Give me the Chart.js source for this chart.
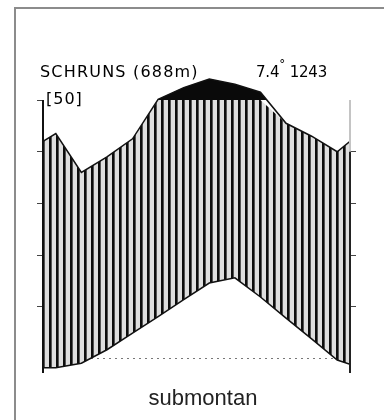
<!DOCTYPE html>
<html>
<head>
<meta charset="utf-8">
<script src="https://cdn.jsdelivr.net/npm/chart.js@4"></script>
<style>
html, body { margin: 0; padding: 0; background: #fff; overflow: hidden; }
#wrap { position: relative; width: 384px; height: 420px; overflow: hidden; }
#frame { position: absolute; left: 14px; top: 7px; width: 420px; height: 460px; border-left: 2px solid #8c8c8c; border-top: 2px solid #8c8c8c; }
canvas { position: absolute; left: 0; top: 0; }
.lbl { position: absolute; font-family: "DejaVu Sans", sans-serif; font-size: 16px; line-height: 16px; color: #000; white-space: nowrap; }
#caption { position: absolute; left: 103px; top: 387px; width: 200px; text-align: center; font-family: "Liberation Sans", Arial, sans-serif; font-size: 22px; line-height: 22px; color: #222; }
</style>
</head>
<body>
<div id="wrap">
  <div id="frame"></div>
  <canvas id="klima" width="384" height="420"></canvas>
  <div class="lbl" style="left:40px; top:64px; letter-spacing:1.2px;">SCHRUNS (688m)</div>
  <div class="lbl" style="left:256px; top:64px; font-size:15px; letter-spacing:-0.2px;">7.4<span style="position:relative; top:-9px; font-size:12px;">°</span> 1243</div>
  <div class="lbl" style="left:46px; top:91px; letter-spacing:1px;">[50]</div>
  <div id="caption">submontan</div>
</div>
<script>
// Klimadiagramm nach Walter/Lieth: 10 °C = 20 mm, über 100 mm auf 1/10 verkürzt
const months = ['Jan', 'Feb', 'Mär', 'Apr', 'Mai', 'Jun', 'Jul', 'Aug', 'Sep', 'Okt', 'Nov', 'Dez'];
const temperature = [-1.8, -0.9, 1.7, 4.9, 8.1, 11.4, 14.6, 15.6, 11.9, 7.8, 3.8, -0.3];
const precipitation = [87, 72, 78, 85, 103, 148, 181, 161, 130, 91, 86, 80];
const tempEdges = [-1.8, -1.1];      // Kurvenenden am Jahresanfang / -ende
const precipEdges = [84, 84];
const leftTicks = [10, 20, 30, 40, 50];
const rightTicks = [10, 20, 30, 40];

function skalaNiederschlag(p) {
    return p <= 100 ? p / 2 : 50 + (p - 100) / 20;
}

function punkte(werte, enden, f) {
    const pts = [{ x: 0, y: f(enden[0]) }];
    werte.forEach((v, i) => pts.push({ x: i + 0.5, y: f(v) }));
    pts.push({ x: months.length, y: f(enden[1]) });
    return pts;
}

const tempPts = punkte(temperature, tempEdges, v => v);
const precipPts = punkte(precipitation, precipEdges, skalaNiederschlag);
const humidPts = precipPts.map(p => ({ x: p.x, y: Math.min(p.y, 50) }));

function schraffur() {
    const c = document.createElement('canvas');
    c.width = 7;
    c.height = 4;
    const g = c.getContext('2d');
    g.fillStyle = '#dedede';
    g.fillRect(0, 0, 7, 4);
    g.fillStyle = '#0d0d0d';
    g.fillRect(0, 0, 2, 4);
    g.fillStyle = '#555';
    g.fillRect(2, 0, 1, 4);
    return g.createPattern(c, 'repeat');
}

const achsen = {
    id: 'achsen',
    afterDatasetsDraw(chart) {
        const { ctx, chartArea: a, scales: { y } } = chart;
        const oben = y.getPixelForValue(50);
        const knick = y.getPixelForValue(40);
        ctx.save();
        ctx.lineWidth = 2;
        ctx.strokeStyle = '#111';
        ctx.beginPath();
        ctx.moveTo(a.left, oben);
        ctx.lineTo(a.left, a.bottom);
        ctx.stroke();
        ctx.strokeStyle = '#c4c4c4';
        ctx.beginPath();
        ctx.moveTo(a.right, oben);
        ctx.lineTo(a.right, knick);
        ctx.stroke();
        ctx.strokeStyle = '#222';
        ctx.beginPath();
        ctx.moveTo(a.right, knick);
        ctx.lineTo(a.right, a.bottom);
        ctx.stroke();
        ctx.restore();
    }
};

const ctx = document.getElementById('klima').getContext('2d');
new Chart(ctx, {
    type: 'line',
    data: {
        datasets: [
            {
                label: 'Temperatur',
                data: tempPts,
                borderColor: '#111',
                borderWidth: 1.5,
                pointRadius: 0,
                tension: 0,
                fill: false
            },
            {
                label: 'Niederschlag',
                data: precipPts,
                borderColor: '#111',
                borderWidth: 1.5,
                pointRadius: 0,
                tension: 0,
                fill: { target: { value: 50 }, above: '#0a0a0a', below: 'rgba(0,0,0,0)' }
            },
            {
                label: 'humid',
                data: humidPts,
                borderColor: 'rgba(0,0,0,0)',
                borderWidth: 0,
                pointRadius: 0,
                tension: 0,
                backgroundColor: schraffur(),
                fill: '-2'
            }
        ]
    },
    options: {
        responsive: false,
        animation: false,
        layout: { padding: { left: 35, right: 26, top: 78, bottom: 47 } },
        plugins: { legend: { display: false }, tooltip: { enabled: false } },
        scales: {
            x: { type: 'linear', min: 0, max: 12, display: false },
            y: {
                position: 'left',
                min: -2.8,
                max: 54.26,
                afterBuildTicks: s => { s.ticks = [0, ...leftTicks].map(v => ({ value: v })); },
                afterFit: s => { s.width = 8; },
                border: { display: false, dash: [2, 4] },
                ticks: { display: false },
                grid: {
                    tickLength: 6,
                    color: c => (c.tick && c.tick.value === 0 ? '#777' : 'rgba(0,0,0,0)'),
                    tickColor: c => (c.tick && c.tick.value > 0 ? '#444' : 'rgba(0,0,0,0)')
                }
            },
            y2: {
                position: 'right',
                min: -2.8,
                max: 54.26,
                afterBuildTicks: s => { s.ticks = rightTicks.map(v => ({ value: v })); },
                afterFit: s => { s.width = 8; },
                border: { display: false },
                ticks: { display: false },
                grid: { drawOnChartArea: false, tickLength: 6, tickColor: '#444' }
            }
        }
    },
    plugins: [achsen]
});
</script>
</body>
</html>
